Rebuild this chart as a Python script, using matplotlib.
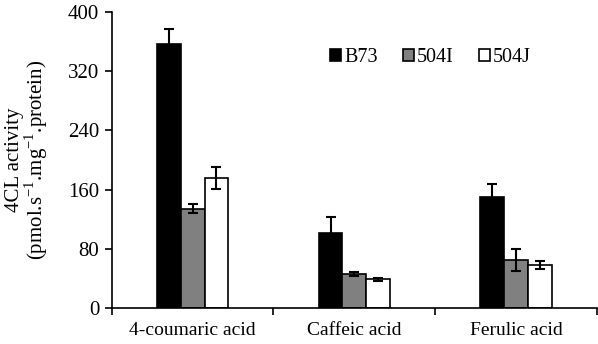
import matplotlib
matplotlib.use("Agg")
import matplotlib.pyplot as plt
import numpy as np

plt.rcParams['font.family'] = ['Liberation Serif', 'DejaVu Serif']
plt.rcParams['mathtext.fontset'] = 'custom'
plt.rcParams['mathtext.rm'] = 'Liberation Serif'

categories = ['4-coumaric acid', 'Caffeic acid', 'Ferulic acid']
series = ['B73', '504I', '504J']
values = {
    'B73': [357, 101, 150],
    '504I': [134, 46, 65],
    '504J': [176, 39, 58],
}
errors = {
    'B73': [20, 22, 18],
    '504I': [6, 3, 15],
    '504J': [15, 2, 5],
}
colors = {'B73': 'black', '504I': '#808080', '504J': 'white'}
yticks = [0, 80, 160, 240, 320, 400]

fig = plt.figure(figsize=(5.98, 3.44), dpi=100)
ax = fig.add_axes([0.187, 0.105, 0.811, 0.86])

x = np.arange(len(categories))
w = 0.147
for i, s in enumerate(series):
    ax.bar(x + (i - 1) * w, values[s], w, color=colors[s], edgecolor='black',
           linewidth=1.2, label=s, yerr=errors[s], capsize=3.5,
           error_kw=dict(elinewidth=1.5, capthick=1.5, ecolor='black'))

ax.set_xlim(-0.5, 2.5)
ax.set_ylim(0, 400)
ax.set_yticks(yticks)
ax.set_yticklabels([str(t) for t in yticks], fontsize=15)
ax.set_xticks(x)
ax.set_xticklabels(categories, fontsize=14)
ax.tick_params(axis='x', length=0, pad=10)
ax.set_xticks([-0.5, 0.5, 1.5, 2.5], minor=True)
ax.tick_params(axis='x', which='minor', length=5, width=1.2, direction='out')
ax.tick_params(axis='y', length=5, width=1.2, direction='out', pad=4)
for sp in ['top', 'right']:
    ax.spines[sp].set_visible(False)
for sp in ['left', 'bottom']:
    ax.spines[sp].set_linewidth(1.2)

ax.set_ylabel('4CL activity\n(pmol.s$^{-1}$.mg$^{-1}$.protein)', fontsize=15, linespacing=0.92, labelpad=13)

ax.legend(loc='center left', bbox_to_anchor=(0.429, 0.845), ncol=3, frameon=False,
          fontsize=14.5, handlelength=0.55, handleheight=0.55, handletextpad=0.15,
          columnspacing=1.25, borderpad=0)

fig.savefig('out.png', dpi=100)
